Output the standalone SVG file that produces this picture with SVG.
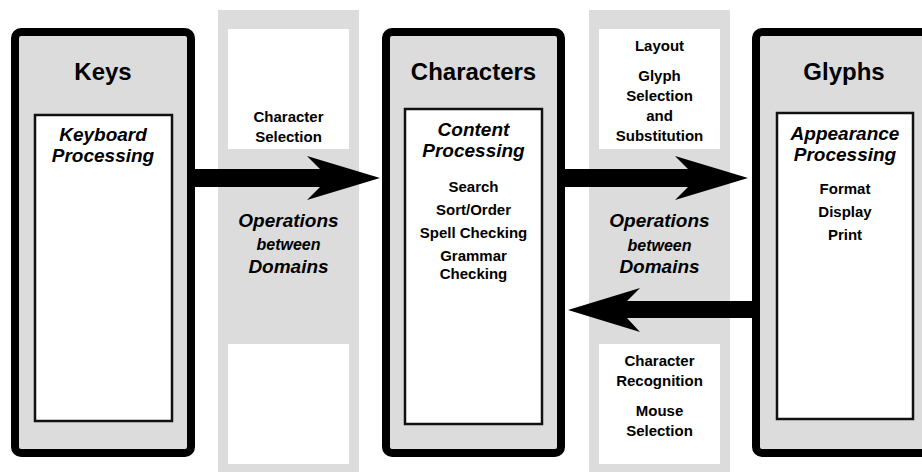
<svg xmlns="http://www.w3.org/2000/svg" width="922" height="472" viewBox="0 0 922 472">
  <style>
    text { font-family: "Liberation Sans", Arial, sans-serif; font-weight: bold; fill: #000; text-anchor: middle; }
    .title { font-size: 24px; }
    .proc { font-size: 19px; font-style: italic; }
    .small { font-size: 15px; }
    .ops { font-size: 19px; font-style: italic; }
    .between { font-size: 16px; font-style: italic; }
    .domain { fill: #dcdcdc; stroke: #000; stroke-width: 8; }
    .inner { fill: #fff; stroke: #111; stroke-width: 2.5; }
    .band { fill: #dcdcdc; }
    .slot { fill: #fff; }
    .arrow { fill: #000; }
  </style>

  <!-- Operations band between Keys and Characters -->
  <g id="ops-keys-characters">
    <rect class="band" x="218" y="10" width="141" height="462"/>
    <rect class="slot" x="228" y="29" width="121" height="120"/>
    <rect class="slot" x="228" y="344" width="121" height="120"/>
    <text class="small" x="288.5" y="122">Character</text>
    <text class="small" x="288.5" y="142">Selection</text>
    <text class="ops" x="288.5" y="227">Operations</text>
    <text class="between" x="288.5" y="250">between</text>
    <text class="ops" x="288.5" y="273">Domains</text>
  </g>

  <!-- Operations band between Characters and Glyphs -->
  <g id="ops-characters-glyphs">
    <rect class="band" x="589" y="10" width="141" height="462"/>
    <rect class="slot" x="599" y="29" width="121" height="120"/>
    <rect class="slot" x="599" y="344" width="121" height="120"/>
    <text class="small" x="659.5" y="51">Layout</text>
    <text class="small" x="659.5" y="81">Glyph</text>
    <text class="small" x="659.5" y="101">Selection</text>
    <text class="small" x="659.5" y="121">and</text>
    <text class="small" x="659.5" y="141">Substitution</text>
    <text class="ops" x="659.5" y="227">Operations</text>
    <text class="between" x="659.5" y="251">between</text>
    <text class="ops" x="659.5" y="273">Domains</text>
    <text class="small" x="659.5" y="366">Character</text>
    <text class="small" x="659.5" y="386">Recognition</text>
    <text class="small" x="659.5" y="416">Mouse</text>
    <text class="small" x="659.5" y="436">Selection</text>
  </g>

  <!-- Keys domain -->
  <g id="keys">
    <rect class="domain" x="15" y="32" width="176" height="421" rx="6"/>
    <text class="title" x="103" y="80">Keys</text>
    <rect class="inner" x="35" y="115" width="137" height="306"/>
    <text class="proc" x="103" y="141">Keyboard</text>
    <text class="proc" x="103" y="162">Processing</text>
  </g>

  <!-- Characters domain -->
  <g id="characters">
    <rect class="domain" x="386" y="32" width="175" height="421" rx="6"/>
    <text class="title" x="473.5" y="80">Characters</text>
    <rect class="inner" x="405" y="109" width="137" height="315"/>
    <text class="proc" x="473.5" y="136">Content</text>
    <text class="proc" x="473.5" y="157">Processing</text>
    <text class="small" x="473.5" y="192">Search</text>
    <text class="small" x="473.5" y="215">Sort/Order</text>
    <text class="small" x="473.5" y="238">Spell Checking</text>
    <text class="small" x="473.5" y="261">Grammar</text>
    <text class="small" x="473.5" y="279">Checking</text>
  </g>

  <!-- Glyphs domain (runs past the right edge) -->
  <g id="glyphs">
    <rect class="domain" x="756" y="32" width="180" height="421" rx="6"/>
    <text class="title" x="844" y="80">Glyphs</text>
    <rect class="inner" x="777" y="113" width="136" height="306"/>
    <text class="proc" x="845" y="140">Appearance</text>
    <text class="proc" x="845" y="161">Processing</text>
    <text class="small" x="845" y="194">Format</text>
    <text class="small" x="845" y="217">Display</text>
    <text class="small" x="845" y="240">Print</text>
  </g>

  <!-- Connectors: thick block arrows between domains -->
  <g id="connectors">
    <polygon class="arrow" points="195,169 320,169 307,156 380,178 307,200 320,187 195,187"/>
    <polygon class="arrow" points="565,169 688,169 675,156 748,178 675,200 688,187 565,187"/>
    <polygon class="arrow" points="753,301 627,301 640,288 568,310 640,332 627,318 753,318"/>
  </g>
</svg>
